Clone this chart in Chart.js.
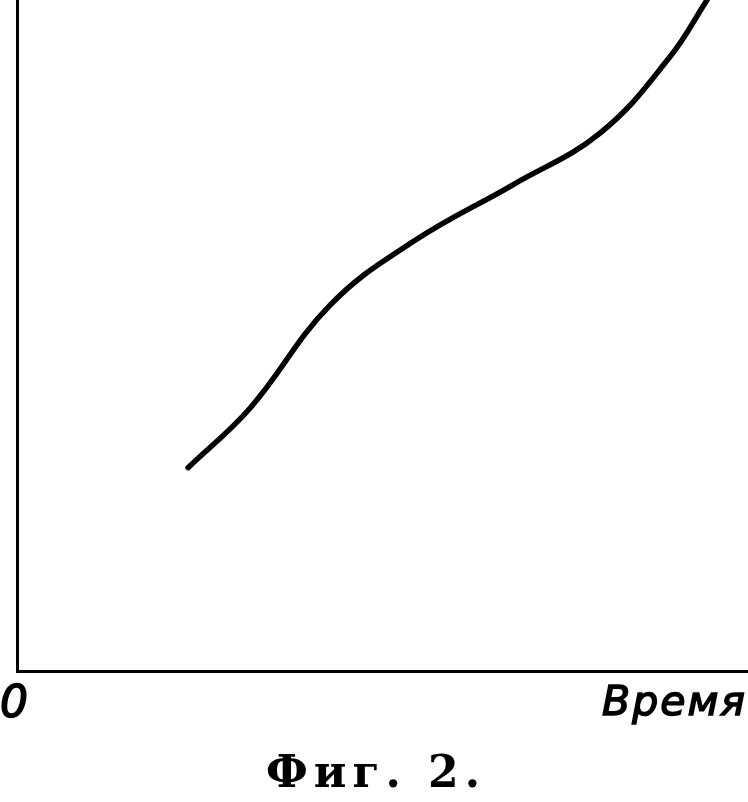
<!DOCTYPE html>
<html>
<head>
<meta charset="utf-8">
<script src="https://cdn.jsdelivr.net/npm/chart.js@4.4.1/dist/chart.umd.min.js"></script>
<style>
  html, body { margin: 0; padding: 0; background: #fff; }
  #wrap { width: 748px; height: 802px; }
</style>
</head>
<body>
<div id="wrap"><canvas id="grafica"></canvas></div>
<script>
// datos (unidades arbitrarias, 0..10)
var tiempo = [2.34, 3.19, 4.28, 5.42, 6.79, 7.98, 8.93, 9.44];
var valores = [3.03, 3.92, 5.45, 6.40, 7.25, 8.02, 9.15, 10.0];
var etiquetaOrigen = "0";
var etiquetaEjeX = "Время";
var pieFigura = "Фиг. 2.";

function armarPuntos(){
    var puntos = [];
    for(var i = 0; i < tiempo.length; i++){
        puntos.push({ x: tiempo[i], y: valores[i] });
    }
    return puntos;
}

// textos dibujados a mano sobre el canvas
var textosPlugin = {
    id: "textos",
    afterDraw: function(chart){
        var ctx = chart.ctx;
        var area = chart.chartArea;
        var ejeX = chart.scales.x;
        ctx.save();
        ctx.fillStyle = "#000";
        ctx.strokeStyle = "#000";
        ctx.lineWidth = 1.5;
        ctx.textBaseline = "alphabetic";

        ctx.font = "italic 44px 'DejaVu Sans'";
        ctx.textAlign = "center";
        ctx.fillText(etiquetaOrigen, ejeX.getPixelForValue(0) - 3, area.bottom + 46);
        ctx.strokeText(etiquetaOrigen, ejeX.getPixelForValue(0) - 3, area.bottom + 46);

        ctx.font = "italic 41px 'DejaVu Sans'";
        ctx.textAlign = "right";
        ctx.letterSpacing = "2px";
        ctx.fillText(etiquetaEjeX, area.right - 1, area.bottom + 44);
        ctx.strokeText(etiquetaEjeX, area.right - 1, area.bottom + 44);

        ctx.font = "bold 44px 'DejaVu Serif'";
        ctx.textAlign = "center";
        ctx.letterSpacing = "6px";
        ctx.fillText(pieFigura, 376, area.bottom + 116);
        ctx.restore();
    }
};

var ctx = document.getElementById("grafica").getContext("2d");
var grafica = new Chart(ctx, {
    type: "line",
    data: {
        datasets: [{
            data: armarPuntos(),
            borderColor: "#000",
            borderWidth: 5.5,
            borderCapStyle: "round",
            pointRadius: 0,
            tension: 0.4,
            fill: false
        }]
    },
    options: {
        responsive: true,
        maintainAspectRatio: false,
        animation: false,
        layout: { padding: { left: 17, right: 0, top: 0, bottom: 131 } },
        plugins: {
            legend: { display: false },
            tooltip: { enabled: false },
            title: { display: false }
        },
        scales: {
            x: {
                type: "linear",
                min: 0,
                max: 10,
                grid: { display: false, drawTicks: false },
                ticks: { display: false },
                border: { display: true, color: "#000", width: 3 }
            },
            y: {
                type: "linear",
                min: 0,
                max: 10,
                grid: { display: false, drawTicks: false },
                ticks: { display: false },
                border: { display: true, color: "#000", width: 3 }
            }
        }
    },
    plugins: [textosPlugin]
});
</script>
</body>
</html>
